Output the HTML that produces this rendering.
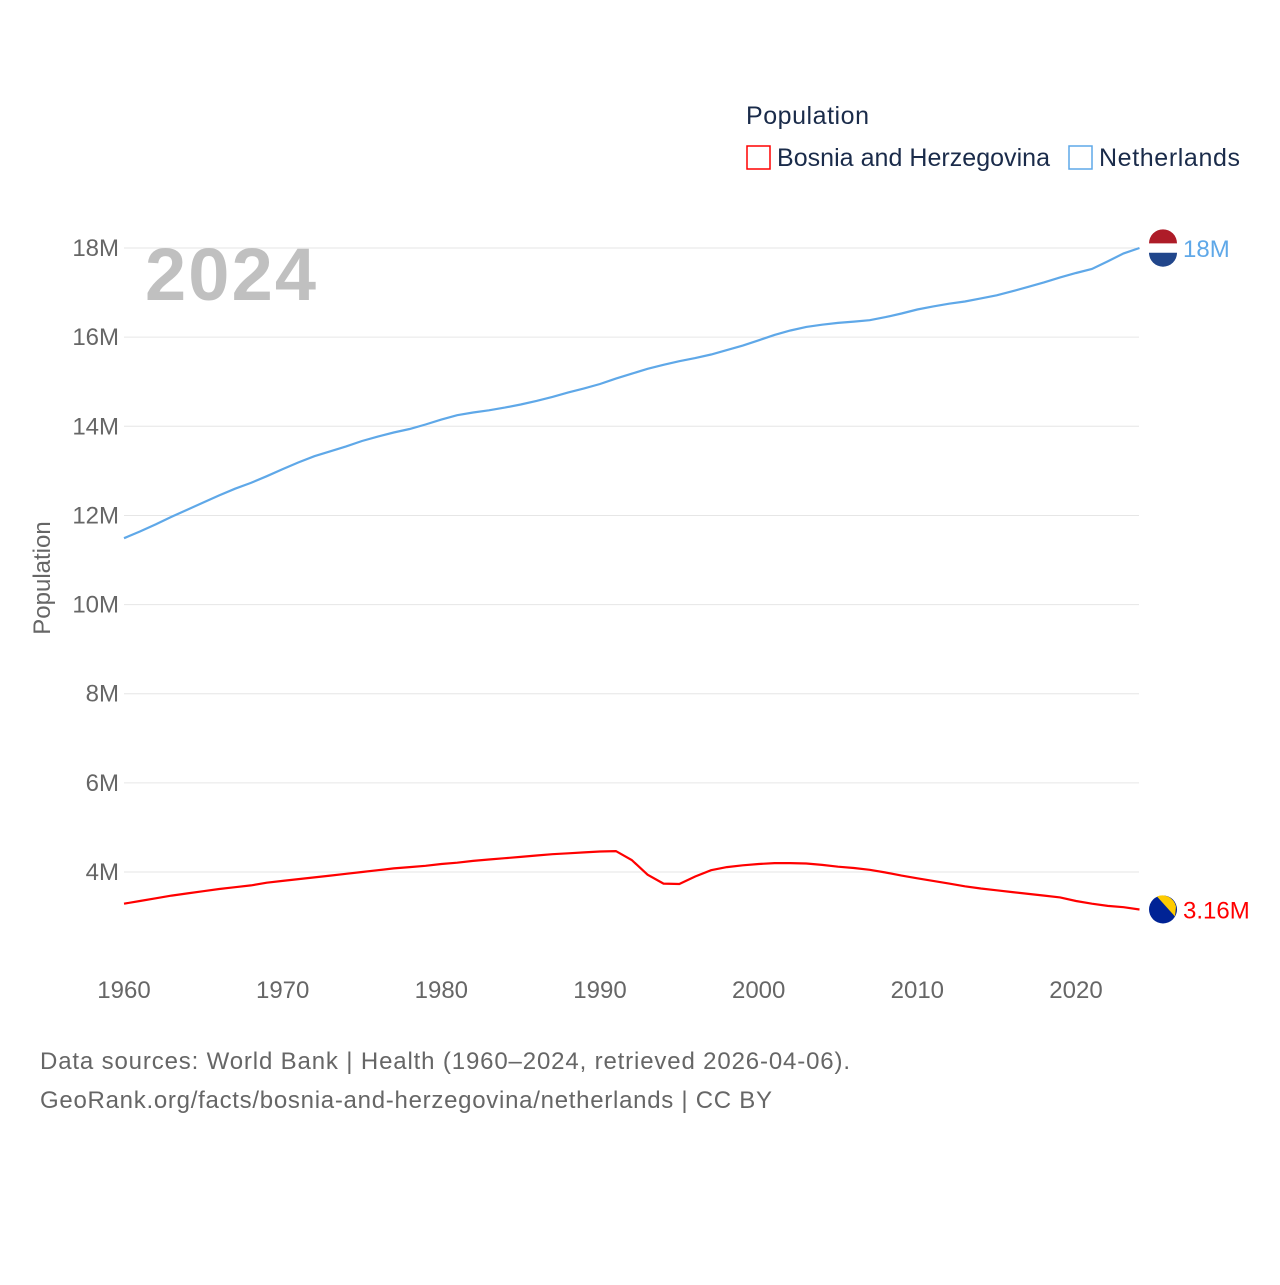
<!DOCTYPE html>
<html><head><meta charset="utf-8"><style>
body{margin:0;background:#fff;font-family:"Liberation Sans",sans-serif;}
svg text{font-family:"Liberation Sans",sans-serif;}
</style></head><body>
<svg id="chart" width="1280" height="1280" viewBox="0 0 1280 1280" xmlns="http://www.w3.org/2000/svg">
<text x="746" y="124" font-size="25" fill="#1a2b4a" textLength="123">Population</text>
<rect x="747" y="146" width="23" height="23" fill="none" stroke="#ff0000" stroke-width="1.5"/>
<text x="777" y="166" font-size="25" fill="#1a2b4a" textLength="273">Bosnia and Herzegovina</text>
<rect x="1069" y="146" width="23" height="23" fill="none" stroke="#5fa8e8" stroke-width="1.5"/>
<text x="1099" y="166" font-size="25" fill="#1a2b4a" textLength="141">Netherlands</text>
<g id="grid"></g>
<text x="145" y="300" font-size="74" font-weight="bold" fill="#c0c0c0" textLength="171">2024</text>
<text transform="translate(50,578) rotate(-90)" text-anchor="middle" font-size="24" fill="#666">Population</text>
<g id="series"></g>
<text x="40" y="1069" font-size="24" fill="#666" textLength="810">Data sources: World Bank | Health (1960–2024, retrieved 2026-04-06).</text>
<text x="40" y="1108" font-size="24" fill="#666" textLength="732">GeoRank.org/facts/bosnia-and-herzegovina/netherlands | CC BY</text>
</svg>
<script>
const years=[];for(let y=1960;y<=2024;y++)years.push(y);
const yTicks=[4,6,8,10,12,14,16,18];
const xTicks=[1960,1970,1980,1990,2000,2010,2020];
const netherlands=[11.49,11.64,11.8,11.97,12.13,12.29,12.45,12.6,12.73,12.88,13.04,13.19,13.33,13.44,13.55,13.67,13.77,13.86,13.94,14.04,14.15,14.25,14.31,14.36,14.42,14.49,14.57,14.66,14.76,14.85,14.95,15.07,15.18,15.29,15.38,15.46,15.53,15.61,15.71,15.81,15.93,16.05,16.15,16.23,16.28,16.32,16.35,16.38,16.45,16.53,16.62,16.69,16.75,16.8,16.87,16.94,17.03,17.13,17.23,17.34,17.44,17.53,17.7,17.88,18.0];
const bosnia=[3.29,3.35,3.41,3.47,3.52,3.57,3.62,3.66,3.7,3.76,3.8,3.84,3.88,3.92,3.96,4.0,4.04,4.08,4.11,4.14,4.18,4.21,4.25,4.28,4.31,4.34,4.37,4.4,4.42,4.44,4.46,4.47,4.27,3.94,3.74,3.73,3.9,4.04,4.11,4.15,4.18,4.2,4.2,4.19,4.16,4.12,4.09,4.05,3.99,3.92,3.86,3.8,3.74,3.68,3.63,3.59,3.55,3.51,3.47,3.43,3.35,3.29,3.24,3.21,3.16];
const X=y=>124+(y-1960)*(1076-124)/60;
const Y=v=>1050.3-v*(624/14);
const NS="http://www.w3.org/2000/svg";
const grid=document.getElementById('grid'),ser=document.getElementById('series');
function mk(tag,attrs,parent){const e=document.createElementNS(NS,tag);for(const k in attrs)e.setAttribute(k,attrs[k]);parent.appendChild(e);return e;}
yTicks.forEach(t=>{
 const l=mk('line',{x1:124,x2:1139,y1:Y(t),y2:Y(t),stroke:'#e6e6e6','stroke-width':1},grid);
 
 
 const tx=mk('text',{x:119,y:Y(t)+8,'text-anchor':'end','font-size':24,fill:'#666'},grid);
 tx.textContent=t+'M';
 
 
});
xTicks.forEach(t=>{
 const tx=mk('text',{x:X(t),y:998,'text-anchor':'middle','font-size':24,fill:'#666'},grid);
 tx.textContent=t;
 
 
});
function line(vals,color,name,label,flag){
 const d=vals.map((v,i)=>(i?'L':'M')+X(years[i]).toFixed(1)+' '+Y(v).toFixed(1)).join(' ');
 const p=mk('path',{d:d,fill:'none',stroke:color,'stroke-width':2.2},ser);
 
 
 const last=vals[vals.length-1],cy=Y(last),cx=1163;
 const g=mk('g',{},ser);
 
 
 if(flag==='nl'){
  mk('circle',{cx:cx,cy:cy,r:14,fill:'#fff'},g);
  mk('path',{d:`M${cx-14} ${cy-4.7} A14 14 0 0 1 ${cx+14} ${cy-4.7} Z`,fill:'#ae1c28'},g);
  mk('path',{d:`M${cx-14} ${cy+4.7} A14 14 0 0 0 ${cx+14} ${cy+4.7} Z`,fill:'#21468b'},g);
 }else{
  mk('circle',{cx:cx,cy:cy,r:14,fill:'#002395'},g);
  mk('path',{d:`M${cx-6} ${cy-13} L${cx+12} ${cy+7} L${cx+13} ${cy-3} A14 14 0 0 0 ${cx-6} ${cy-13} Z`,fill:'#fecb00'},g);
 }
 const t=mk('text',{x:1183,y:cy+9,'font-size':24,fill:color},ser);
 t.textContent=label;
 
 
}
line(netherlands,'#5fa8e8','netherlands','18M','nl');
line(bosnia,'#ff0000','bosnia','3.16M','ba');
</script>
</body></html>
